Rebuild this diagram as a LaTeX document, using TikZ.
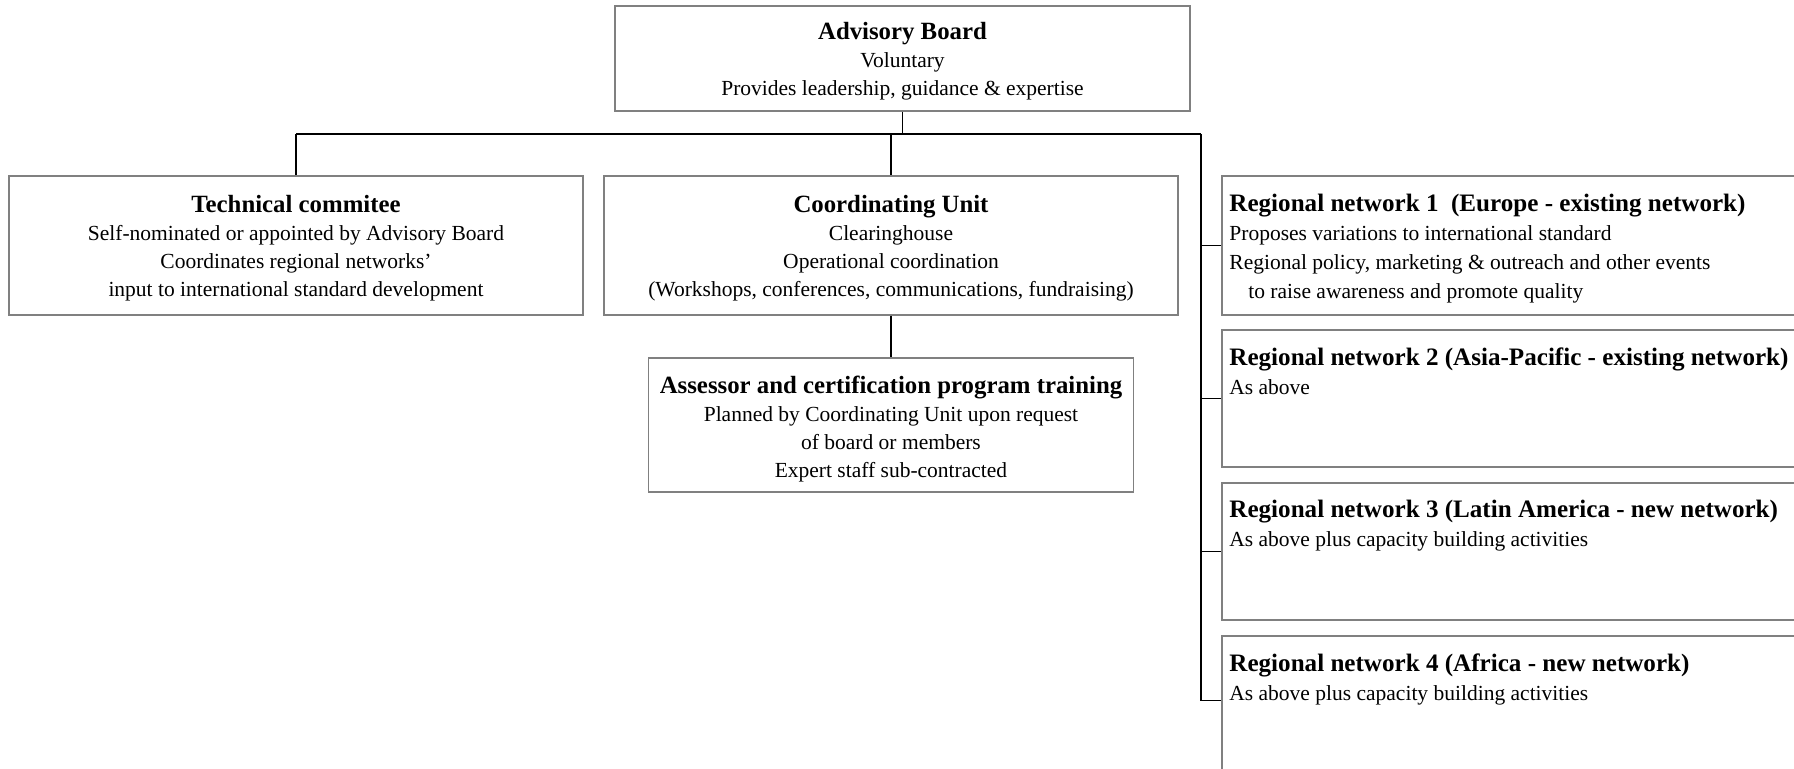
\documentclass[tikz,border=0pt]{standalone}
\usepackage{fontspec}
\setmainfont{Liberation Serif}
\usetikzlibrary{calc}
\definecolor{boxline}{HTML}{808080}
\newcommand{\bodyfont}{\fontsize{10.75}{14}\selectfont}
\newcommand{\headfont}{\fontsize{12.4}{14}\selectfont\bfseries}
\newcommand{\regfont}{\fontsize{10.75}{14.5}\selectfont}
\newcommand{\reghead}{\fontsize{12.55}{14.5}\selectfont\bfseries}
\tikzset{
  orgbox/.style={draw=boxline, line width=0.6pt, inner sep=0pt},
  boxtext/.style={inner sep=0pt, align=center, font=\bodyfont},
  regtext/.style={anchor=north west, inner sep=0pt, align=left, font=\regfont},
  conn/.style={draw=black, line width=0.6pt}
}
\begin{document}
\begin{tikzpicture}[x=0.5pt,y=-0.5pt]
\useasboundingbox (0,0) rectangle (1794,769);

% central boxes
\node[orgbox, minimum width=287.5pt, minimum height=52.5pt] (ab) at (902.5,58.5) {};
\node[orgbox, minimum width=287pt, minimum height=69.5pt] (tc) at (296,245.5) {};
\node[orgbox, minimum width=287pt, minimum height=69.5pt] (cu) at (891,245.5) {};
\node[orgbox, minimum width=242.5pt, minimum height=67pt] (act) at (891,425) {};

\node[boxtext] (abt) at ([yshift=-1.6pt]ab.center)
  {{\headfont Advisory Board}\\Voluntary\\Provides leadership, guidance \& expertise};
\node[boxtext] (tct) at ([yshift=-1.4pt]tc.center)
  {{\headfont Technical commitee}\\Self-nominated or appointed by Advisory Board\\Coordinates regional networks'\\input to international standard development};
\node[boxtext] (cut) at ([yshift=-1.4pt]cu.center)
  {{\headfont Coordinating Unit}\\Clearinghouse\\Operational coordination\\(Workshops, conferences, communications, fundraising)};
\node[boxtext] (actt) at ([yshift=-2pt]act.center)
  {{\headfont Assessor and certification program training}\\Planned by Coordinating Unit upon request\\of board or members\\Expert staff sub-contracted};

% regional network boxes (running past the right edge)
\node[orgbox, minimum width=294pt, minimum height=69.5pt] (r1) at (1516,245.5) {};
\node[orgbox, minimum width=294pt, minimum height=68.5pt] (r2) at (1516,398.5) {};
\node[orgbox, minimum width=294pt, minimum height=68.5pt] (r3) at (1516,551.5) {};
\node[orgbox, minimum width=294pt, minimum height=77pt] (r4) at (1516,713) {};

\node[regtext] (r1t) at (1229,194)
  {{\reghead Regional network 1\ \ (Europe - existing network)}\\Proposes variations to international standard\\Regional policy, marketing \& outreach and other events\\\hspace*{9.5pt}to raise awareness and promote quality};
\node[regtext] (r2t) at (1229,347)
  {{\reghead Regional network 2 (Asia-Pacific - existing network)}\\As above};
\node[regtext] (r3t) at (1229,500)
  {{\reghead Regional network 3 (Latin America - new network)}\\As above plus capacity building activities};
\node[regtext] (r4t) at (1229,653)
  {{\reghead Regional network 4 (Africa - new network)}\\As above plus capacity building activities};

% connectors
\coordinate (hl) at (296,134);
\coordinate (hr) at (1201,134);
\coordinate (r4in) at ([yshift=-32.5pt]r4.north west);
\draw[conn] (ab.south) -- (ab.south |- hr);
\draw[conn] (hl) -- (hr);
\draw[conn] (hl) -- (tc.north);
\draw[conn] (cu.north |- hr) -- (cu.north);
\draw[conn] (cu.south) -- (act.north);
\draw[conn] (hr) |- (r4in);
\draw[conn] (hr |- r1.west) -- (r1.west);
\draw[conn] (hr |- r2.west) -- (r2.west);
\draw[conn] (hr |- r3.west) -- (r3.west);
\end{tikzpicture}
\end{document}
